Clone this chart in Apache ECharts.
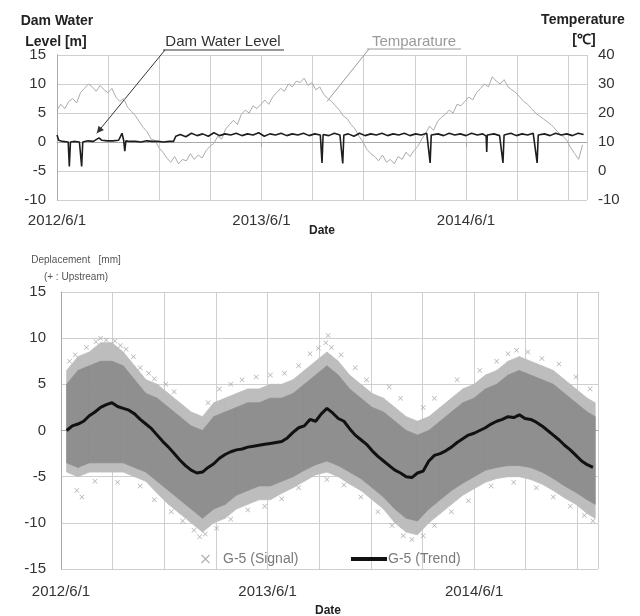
<!DOCTYPE html>
<html>
<head>
<meta charset="utf-8">
<script src="https://cdn.jsdelivr.net/npm/echarts@6/dist/echarts.min.js"></script>
<style>
  html, body { margin: 0; padding: 0; background: #fff; }
  #chart { width: 640px; height: 616px; }
</style>
</head>
<body>
<div id="chart"></div>
<script>
// x values are days counted from 2012/6/1
var dateLabels = ['2012/6/1', '2013/6/1', '2014/6/1']

// top panel: temperature, one reading a week (day 0, 7, 14, ...)
var tempStep = 7
var temperature = [
  21, 23, 21.5, 24, 25, 23.5, 27, 28.5, 30, 29, 27.5, 29.5, 28, 27, 28.5, 25.5,
  24, 25, 22, 20.5, 19, 17, 15, 13.5, 11, 10.5, 8, 6.5, 4.5, 3, 5, 2.5,
  4, 3.5, 6, 4, 5.5, 4.5, 7, 8.5, 9.5, 12, 11, 14.5, 16, 17.5, 16, 19.5,
  21, 20, 22.5, 21.5, 23, 24.5, 23, 25.5, 27, 28.5, 27.5, 30, 29, 31, 30.5, 32,
  29.5, 30.5, 28, 29, 26.5, 25, 24, 22.5, 21, 19, 18, 16, 14.5, 12, 10, 7.5,
  6, 5, 3.5, 5.5, 3, 4, 2.5, 5, 4, 6.5, 5, 7, 8.5, 11, 13, 15.5,
  14, 17, 18.5, 19.5, 21, 20, 23, 22.5, 24, 25.5, 24.5, 27, 28.5, 30, 29, 32.5,
  31, 30, 31.5, 29, 28, 27, 25.5, 24, 23, 21.5, 20, 19, 18, 17, 16, 14.5,
  13, 12, 10.5, 8, 6, 4, 9
]

// top panel: dam water level
var levelDays = [
  0, 3, 10, 20, 22, 24, 30, 40, 44, 46, 55, 65, 75, 80, 90, 100, 110, 116, 119, 121,
  123, 130, 140, 150, 160, 170, 180, 190, 200, 208, 212, 220, 230, 240, 250, 260, 270, 280, 290, 300,
  310, 320, 330, 340, 350, 360, 370, 380, 390, 400, 410, 420, 430, 440, 450, 460, 470, 473, 475, 485,
  495, 505, 510, 512, 520, 530, 540, 550, 560, 570, 580, 590, 600, 610, 620, 630, 640, 650, 660, 666,
  668, 680, 690, 700, 710, 720, 730, 740, 750, 760, 766, 767, 768, 780, 790, 796, 798, 810, 820, 830,
  840, 850, 857, 859, 870, 880, 890, 900, 910, 920, 930, 940
]
var levelValues = [
  1.2, 0.3, 0.1, 0.0, -4.2, 0.0, 0.1, 0.0, -4.2, 0.0, 0.2, 0.1, 0.7, 0.3, 0.2, 0.2, 0.3, 1.5, 0.3, -1.6,
  0.2, 0.1, 0.1, 0.0, 0.2, 0.1, 0.1, 0.0, 0.1, 0.1, 1.0, 1.3, 0.9, 1.5, 1.1, 1.4, 1.0, 1.6, 1.1, 1.4,
  1.2, 1.5, 1.1, 1.4, 1.2, 1.6, 1.0, 1.4, 1.2, 1.5, 1.1, 1.4, 1.2, 1.5, 1.1, 1.4, 1.2, -3.6, 1.3, 1.1,
  1.5, 1.2, -3.7, 1.2, 1.4, 1.0, 1.5, 1.1, 1.4, 1.2, 1.5, 1.1, 1.4, 1.2, 1.5, 1.1, 1.4, 1.2, 1.5, -3.6,
  1.2, 1.4, 1.1, 1.5, 1.2, 1.4, 1.1, 1.5, 1.2, 1.4, 1.0, -1.7, 1.2, 1.4, 1.1, -3.6, 1.2, 1.5, 1.1, 1.4,
  1.2, 1.5, -3.6, 1.2, 1.4, 1.1, 1.5, 1.2, 1.4, 1.1, 1.5, 1.3
]

// bottom panel: trend, every 10 days from day 10
var trendStart = 10
var trendStep = 10
var trend = [
  0.0, 0.5, 0.7, 1.0, 1.6, 2.0, 2.5, 2.8, 3.0, 2.6, 2.4, 2.2, 1.8, 1.2, 0.7, 0.2,
  -0.5, -1.2, -1.8, -2.5, -3.2, -3.8, -4.3, -4.6, -4.5, -4.0, -3.6, -3.0, -2.6, -2.3, -2.1, -2.0,
  -1.8, -1.7, -1.6, -1.5, -1.4, -1.3, -1.2, -0.8, -0.2, 0.3, 0.5, 1.2, 1.0, 1.8, 2.4, 1.9,
  1.3, 1.0, 0.2, -0.5, -1.0, -1.5, -2.2, -2.8, -3.3, -3.8, -4.3, -4.6, -5.0, -5.1, -4.6, -4.4,
  -3.3, -2.7, -2.5, -2.2, -1.8, -1.3, -0.9, -0.5, -0.3, 0.0, 0.3, 0.7, 1.0, 1.2, 1.5, 1.4,
  1.7, 1.3, 1.2, 0.9, 0.5, 0.0, -0.5, -1.0, -1.6, -2.1, -2.7, -3.3, -3.7, -4.0
]

// bottom panel: signal cloud, edges of the scatter
var cloudDays = [
  10, 30, 50, 70, 90, 110, 130, 150, 170, 190, 210, 230, 250, 270, 290, 310,
  330, 350, 370, 390, 410, 430, 450, 470, 490, 510, 530, 550, 570, 590, 610, 630,
  650, 670, 690, 710, 730, 750, 770, 790, 810, 830, 850, 870, 890, 910, 930, 944
]
var cloudHigh = [
  6.5, 8, 8.5, 9.5, 9.5, 8.5, 7, 5.5, 5, 4, 3, 2, 1.5, 3, 3.5, 4,
  4.5, 4.5, 5, 5, 5.5, 6.5, 7.5, 8.5, 7.5, 6, 5, 4, 3.5, 2.5, 1.5, 1,
  1.5, 2.5, 3.5, 4.5, 5, 6, 6.5, 7.5, 8, 7.5, 7, 6.5, 5.5, 4.5, 3.5, 3
]
var cloudLow = [
  -4.5, -5, -4.5, -4.5, -4.5, -4.5, -5, -5.5, -6.8, -8, -9, -10, -11, -10, -9.5, -8.5,
  -8, -7.5, -7.5, -6.8, -6.2, -5.5, -4.8, -4.5, -5, -5.8, -6.5, -7.5, -8.5, -10, -11, -11.3,
  -10, -9, -8, -7, -6.3, -5.6, -5.2, -5, -5, -5.3, -5.8, -6.5, -7.3, -8, -9, -9.5
]
var denseHigh = [
  5, 6.5, 7, 7.5, 7.5, 7, 5.5, 4, 3.5, 2.5, 1.5, 0.5, 0, 1.5, 2, 2.5,
  3, 3, 3.5, 3.5, 4, 5, 6, 7, 6, 4.5, 3.5, 2.5, 2, 1, 0, -0.5,
  0, 1, 2, 3, 3.5, 4.5, 5, 6, 6.5, 6, 5.5, 5, 4, 3, 2, 1.5
]
var denseLow = [
  -3.5, -4, -3.5, -3.5, -3.5, -3.5, -4, -4.5, -5.5, -6.5, -7.5, -8.5, -9.5, -8.5, -8, -7,
  -6.5, -6, -6, -5.5, -5, -4.3, -3.7, -3.3, -3.8, -4.5, -5.2, -6.2, -7.2, -8.5, -9.5, -9.8,
  -8.5, -7.5, -6.5, -5.7, -5, -4.3, -4, -3.8, -3.8, -4, -4.5, -5.2, -6, -6.7, -7.5, -8
]
// scattered single readings around the cloud
var signalDays = [
  28, 37, 15, 25, 45, 62, 70, 80, 95, 105, 115, 128, 140, 155, 165, 185,
  200, 260, 280, 300, 320, 345, 370, 395, 420, 440, 455, 468, 472, 478, 495, 520,
  540, 580, 600, 640, 660, 700, 740, 770, 790, 805, 825, 850, 880, 910, 935,
  60, 100, 140, 165, 195, 215, 235, 245, 255, 275, 300, 330, 360, 390, 420, 470,
  500, 530, 560, 585, 605, 620, 640, 660, 690, 720, 760, 800, 840, 870, 900, 925, 940
]
var signalValues = [
  -6.5, -7.2, 7.5, 8.2, 9.0, 9.6, 10.0, 9.8, 9.7, 9.2, 8.8, 8, 6.8, 6.2, 5.6, 5.0,
  4.2, 3, 4.5, 5, 5.5, 5.8, 6, 6.2, 7, 8.3, 8.9, 9.5, 10.3, 9.0, 8.2, 6.8,
  5.5, 4.7, 3.5, 2.5, 3.5, 5.5, 6.5, 7.5, 8.3, 8.7, 8.5, 7.8, 7.2, 5.8, 4.5,
  -5.5, -5.6, -6, -7.5, -8.8, -9.8, -10.8, -11.5, -11.2, -10.6, -9.6, -8.6, -8.2, -7.4, -6.2, -5.3,
  -5.9, -7.2, -8.8, -10.3, -11.4, -11.8, -11.4, -10.3, -8.8, -7.6, -6, -5.6, -6.2, -7.2, -8.2, -9.2, -9.8
]

var FONT = 'Liberation Sans'
var GRID_COLOR = '#cfcfcf'
var CROSS = 'path://M1,0L5,4L9,0L10,1L6,5L10,9L9,10L5,6L1,10L0,9L4,5L0,1Z'

function pairs(xs, ys) {
  return ys.map(function (v, i) { return [xs[i], v] })
}
function stepped(start, step, ys) {
  return ys.map(function (v, i) { return [start + i * step, v] })
}
// one row per strip of the cloud: day, low, high, next day, next low, next high
function bandRows(lo, hi) {
  var rows = []
  for (var i = 0; i < cloudDays.length - 1; i++) {
    rows.push([cloudDays[i], lo[i], hi[i], cloudDays[i + 1], lo[i + 1], hi[i + 1]])
  }
  return rows
}
function bandSeries(name, lo, hi, color) {
  return {
    name: name, type: 'custom', xAxisIndex: 2, yAxisIndex: 2, silent: true,
    data: bandRows(lo, hi), encode: { x: [0, 3], y: [1, 2, 4, 5] },
    renderItem: function (params, api) {
      var pts = [
        api.coord([api.value(0), api.value(1)]),
        api.coord([api.value(0), api.value(2)]),
        api.coord([api.value(3), api.value(5)]),
        api.coord([api.value(3), api.value(4)])
      ]
      return { type: 'polygon', shape: { points: pts },
        style: { fill: color, stroke: color, lineWidth: 0.8 } }
    }
  }
}
function dateLabel(v) {
  var i = v / 365
  return (i % 1 === 0 && dateLabels[i]) ? dateLabels[i] : ''
}

function xAxes(grid, max, margin) {
  return [{
    type: 'value', gridIndex: grid, min: 0, max: max, interval: 365,
    axisLine: { lineStyle: { color: '#a8a8a8', width: 1 } },
    axisTick: { show: true, length: 5, lineStyle: { color: '#a8a8a8' } },
    splitLine: { show: false },
    axisLabel: { formatter: dateLabel, showMaxLabel: false, margin: margin,
      fontFamily: FONT, fontSize: 15, color: '#333' }
  }, {
    // quarterly grid lines
    type: 'value', gridIndex: grid, min: 0, max: max, interval: 91.25,
    axisLine: { show: false }, axisTick: { show: false }, axisLabel: { show: false },
    splitLine: { show: true, lineStyle: { color: GRID_COLOR, width: 1 } }
  }]
}

function yAxis(grid, min, max, interval, pos, margin) {
  return {
    type: 'value', gridIndex: grid, min: min, max: max, interval: interval, position: pos,
    axisLine: { show: true, lineStyle: { color: '#a8a8a8' } },
    axisTick: { show: false },
    splitLine: { show: pos === 'left', lineStyle: { color: GRID_COLOR, width: 1 } },
    axisLabel: { margin: margin, fontFamily: FONT, fontSize: 15, color: '#333' }
  }
}

var chart = echarts.init(document.getElementById('chart'))

chart.setOption({
  animation: false,
  grid: [
    { left: 57, right: 53, top: 55, height: 145 },
    { left: 61, right: 42, top: 292, height: 277 }
  ],
  xAxis: xAxes(0, 946, 13).concat(xAxes(1, 949, 15)),
  yAxis: [
    yAxis(0, -10, 15, 5, 'left', 11),
    yAxis(0, -10, 40, 10, 'right', 11),
    yAxis(1, -15, 15, 5, 'left', 15)
  ],
  legend: [{
    data: ['G-5 (Signal)'], left: 196, top: 547, itemWidth: 9, itemHeight: 9,
    icon: CROSS, textStyle: { fontFamily: FONT, fontSize: 14, color: '#7a7a7a', padding: [0, 0, 0, 8] }
  }, {
    data: ['G-5 (Trend)'], left: 346, top: 547, itemWidth: 36, itemHeight: 4,
    icon: 'rect', itemGap: 0,
    textStyle: { fontFamily: FONT, fontSize: 14, color: '#7a7a7a', padding: [0, 0, 0, -4] }
  }],
  series: [
    {
      name: 'Temparature', type: 'line', xAxisIndex: 0, yAxisIndex: 1,
      data: stepped(0, tempStep, temperature), showSymbol: false,
      lineStyle: { color: '#ababab', width: 1 }, itemStyle: { color: '#ababab' }
    },
    {
      name: 'Dam Water Level', type: 'line', xAxisIndex: 0, yAxisIndex: 0,
      data: pairs(levelDays, levelValues), showSymbol: false,
      lineStyle: { color: '#1e1e1e', width: 1.6 }, itemStyle: { color: '#1e1e1e' }
    },
    bandSeries('cloud-outer', cloudLow, cloudHigh, '#bdbdbd'),
    bandSeries('cloud-dense', denseLow, denseHigh, '#8f8f8f'),
    {
      name: 'G-5 (Signal)', type: 'scatter', xAxisIndex: 2, yAxisIndex: 2,
      data: pairs(signalDays, signalValues), symbol: CROSS, symbolSize: 5,
      itemStyle: { color: '#a0a0a0' }
    },
    {
      name: 'G-5 (Trend)', type: 'line', xAxisIndex: 2, yAxisIndex: 2,
      data: stepped(trendStart, trendStep, trend), showSymbol: false,
      lineStyle: { color: '#111', width: 3 }, itemStyle: { color: '#111' }
    }
  ]
})

// annotation pointers anchored to the data
var levelTip = chart.convertToPixel({ seriesIndex: 1 }, [71, 1.5])
var tempTip = chart.convertToPixel({ seriesIndex: 0 }, [482, 24])

function arrowHead(from, to) {
  var a = Math.atan2(to[1] - from[1], to[0] - from[0])
  var len = 7, w = 3.5
  var bx = to[0] - len * Math.cos(a), by = to[1] - len * Math.sin(a)
  return [to, [bx + w * Math.sin(a), by - w * Math.cos(a)], [bx - w * Math.sin(a), by + w * Math.cos(a)]]
}

function label(text, x, y, font, color) {
  return { type: 'text', x: x, y: y, silent: true,
    style: { text: text, font: font, fill: color, align: 'center', verticalAlign: 'middle',
      textAlign: 'center', textVerticalAlign: 'middle' } }
}

var bold = 'bold 14px ' + FONT
chart.setOption({
  graphic: [
    label('Dam Water', 57, 21, bold, '#222'),
    label('Level [m]', 56, 42, bold, '#222'),
    label('Temperature', 583, 20, bold, '#222'),
    label('[℃]', 584, 40, bold, '#222'),
    label('Date', 322, 231, 'bold 12px ' + FONT, '#222'),
    label('Date', 328, 611, 'bold 12px ' + FONT, '#222'),
    label('Deplacement   [mm]', 76, 260, '10px ' + FONT, '#555'),
    label('(+ : Upstream)', 76, 277, '10px ' + FONT, '#555'),
    label('Dam Water Level', 223, 42, '15px ' + FONT, '#333'),
    { type: 'line', silent: true, shape: { x1: 163, y1: 50, x2: 284, y2: 50 }, style: { stroke: '#333', lineWidth: 1 } },
    { type: 'line', silent: true, shape: { x1: 165, y1: 50, x2: levelTip[0], y2: levelTip[1] }, style: { stroke: '#333', lineWidth: 1 } },
    { type: 'polygon', silent: true, shape: { points: arrowHead([165, 50], levelTip) }, style: { fill: '#333' } },
    label('Temparature', 414, 42, '15px ' + FONT, '#9a9a9a'),
    { type: 'line', silent: true, shape: { x1: 367, y1: 49, x2: 461, y2: 49 }, style: { stroke: '#9a9a9a', lineWidth: 1 } },
    { type: 'line', silent: true, shape: { x1: 369, y1: 49, x2: tempTip[0], y2: tempTip[1] }, style: { stroke: '#9a9a9a', lineWidth: 1 } }
  ]
})
</script>
</body>
</html>
